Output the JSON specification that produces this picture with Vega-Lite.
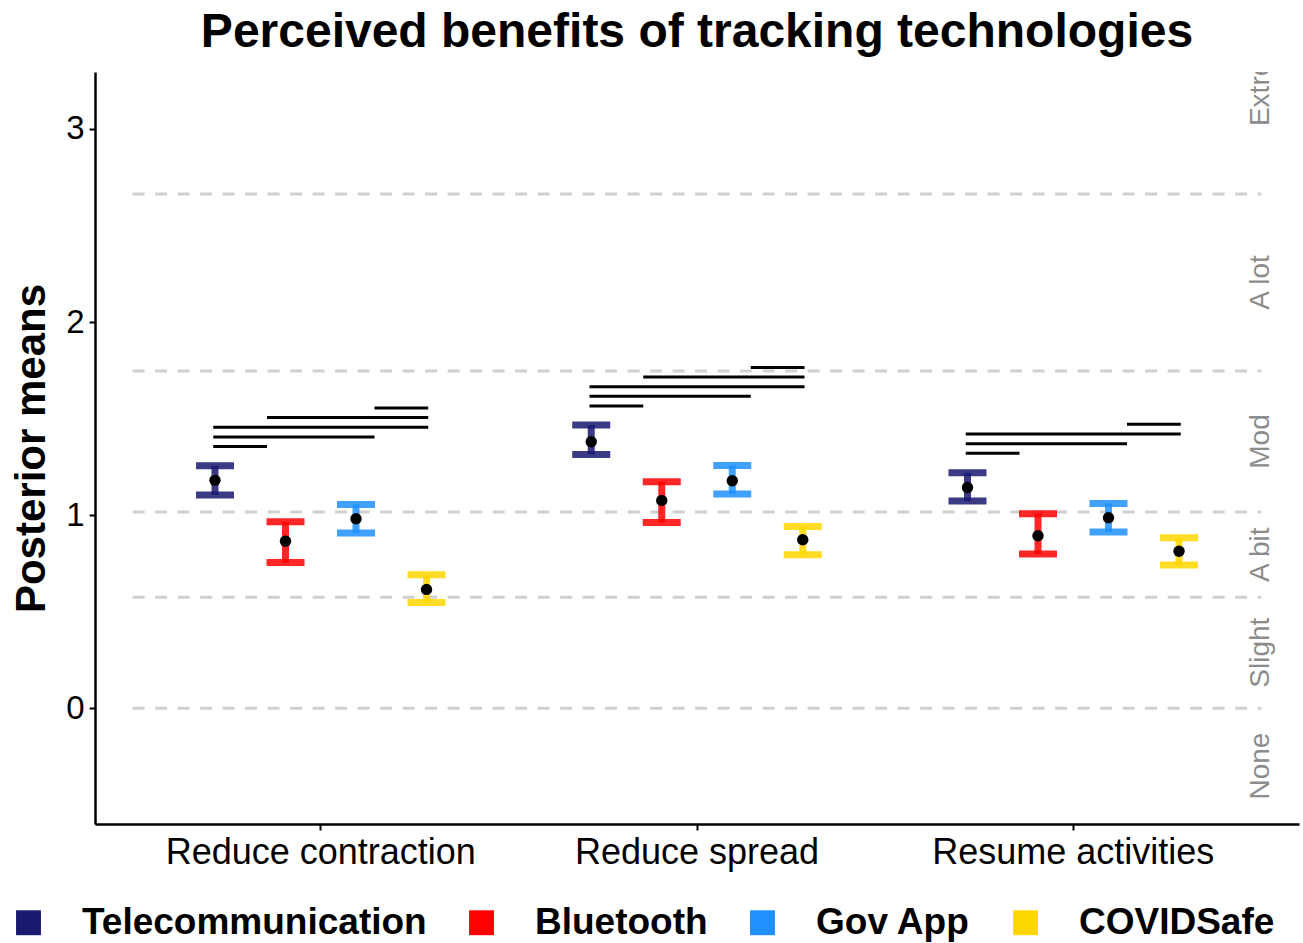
{
  "$schema": "https://vega.github.io/schema/vega-lite/v6.json",
  "width": 1204,
  "height": 752,
  "autosize": {"type": "none"},
  "padding": {"left": 95, "top": 72, "right": 4, "bottom": 119},
  "background": "white",
  "title": {
    "text": "Perceived benefits of tracking technologies",
    "fontSize": 48,
    "fontWeight": "bold",
    "color": "black",
    "anchor": "middle",
    "frame": "group",
    "offset": 15
  },
  "datasets": {
    "est": [
      {"cat": "Reduce contraction", "tech": "Telecommunication", "mean": 1.180, "lo": 1.104, "hi": 1.256},
      {"cat": "Reduce contraction", "tech": "Bluetooth", "mean": 0.865, "lo": 0.754, "hi": 0.965},
      {"cat": "Reduce contraction", "tech": "Gov App", "mean": 0.981, "lo": 0.907, "hi": 1.055},
      {"cat": "Reduce contraction", "tech": "COVIDSafe", "mean": 0.615, "lo": 0.547, "hi": 0.691},
      {"cat": "Reduce spread", "tech": "Telecommunication", "mean": 1.380, "lo": 1.314, "hi": 1.466},
      {"cat": "Reduce spread", "tech": "Bluetooth", "mean": 1.076, "lo": 0.962, "hi": 1.173},
      {"cat": "Reduce spread", "tech": "Gov App", "mean": 1.178, "lo": 1.109, "hi": 1.257},
      {"cat": "Reduce spread", "tech": "COVIDSafe", "mean": 0.872, "lo": 0.795, "hi": 0.941},
      {"cat": "Resume activities", "tech": "Telecommunication", "mean": 1.143, "lo": 1.073, "hi": 1.219},
      {"cat": "Resume activities", "tech": "Bluetooth", "mean": 0.893, "lo": 0.798, "hi": 1.007},
      {"cat": "Resume activities", "tech": "Gov App", "mean": 0.986, "lo": 0.912, "hi": 1.060},
      {"cat": "Resume activities", "tech": "COVIDSafe", "mean": 0.813, "lo": 0.741, "hi": 0.882}
    ],
    "sig": [
      {"cat": "Reduce contraction", "pair": "c-TB", "end": "Telecommunication", "y": 1.355},
      {"cat": "Reduce contraction", "pair": "c-TB", "end": "Bluetooth", "y": 1.355},
      {"cat": "Reduce contraction", "pair": "c-TG", "end": "Telecommunication", "y": 1.405},
      {"cat": "Reduce contraction", "pair": "c-TG", "end": "Gov App", "y": 1.405},
      {"cat": "Reduce contraction", "pair": "c-TC", "end": "Telecommunication", "y": 1.455},
      {"cat": "Reduce contraction", "pair": "c-TC", "end": "COVIDSafe", "y": 1.455},
      {"cat": "Reduce contraction", "pair": "c-BC", "end": "Bluetooth", "y": 1.505},
      {"cat": "Reduce contraction", "pair": "c-BC", "end": "COVIDSafe", "y": 1.505},
      {"cat": "Reduce contraction", "pair": "c-GC", "end": "Gov App", "y": 1.555},
      {"cat": "Reduce contraction", "pair": "c-GC", "end": "COVIDSafe", "y": 1.555},
      {"cat": "Reduce spread", "pair": "s-TB", "end": "Telecommunication", "y": 1.565},
      {"cat": "Reduce spread", "pair": "s-TB", "end": "Bluetooth", "y": 1.565},
      {"cat": "Reduce spread", "pair": "s-TG", "end": "Telecommunication", "y": 1.615},
      {"cat": "Reduce spread", "pair": "s-TG", "end": "Gov App", "y": 1.615},
      {"cat": "Reduce spread", "pair": "s-TC", "end": "Telecommunication", "y": 1.665},
      {"cat": "Reduce spread", "pair": "s-TC", "end": "COVIDSafe", "y": 1.665},
      {"cat": "Reduce spread", "pair": "s-BC", "end": "Bluetooth", "y": 1.715},
      {"cat": "Reduce spread", "pair": "s-BC", "end": "COVIDSafe", "y": 1.715},
      {"cat": "Reduce spread", "pair": "s-GC", "end": "Gov App", "y": 1.765},
      {"cat": "Reduce spread", "pair": "s-GC", "end": "COVIDSafe", "y": 1.765},
      {"cat": "Resume activities", "pair": "r-TB", "end": "Telecommunication", "y": 1.32},
      {"cat": "Resume activities", "pair": "r-TB", "end": "Bluetooth", "y": 1.32},
      {"cat": "Resume activities", "pair": "r-TG", "end": "Telecommunication", "y": 1.37},
      {"cat": "Resume activities", "pair": "r-TG", "end": "Gov App", "y": 1.37},
      {"cat": "Resume activities", "pair": "r-TC", "end": "Telecommunication", "y": 1.42},
      {"cat": "Resume activities", "pair": "r-TC", "end": "COVIDSafe", "y": 1.42},
      {"cat": "Resume activities", "pair": "r-GC", "end": "Gov App", "y": 1.47},
      {"cat": "Resume activities", "pair": "r-GC", "end": "COVIDSafe", "y": 1.47}
    ],
    "cut": [
      {"threshold": 0},
      {"threshold": 0.575},
      {"threshold": 1.016},
      {"threshold": 1.746},
      {"threshold": 2.663}
    ],
    "lab": [
      {"label": "None", "ypos": -0.3},
      {"label": "Slight", "ypos": 0.2875},
      {"label": "A bit", "ypos": 0.795},
      {"label": "Mod", "ypos": 1.381},
      {"label": "A lot", "ypos": 2.205},
      {"label": "Extreme", "ypos": 3.285}
    ]
  },
  "layer": [
    {
      "data": {"name": "cut"},
      "mark": {"type": "rule", "color": "#d0d0d0", "strokeWidth": 3, "strokeDash": [12, 10.5]},
      "encoding": {
        "x": {"datum": "Reduce contraction", "type": "nominal", "bandPosition": 0, "axis": {"title": null, "labelAngle": 0, "labelAlign": "center", "labelBaseline": "top", "bandPosition": 0.5, "labelFontSize": 36}},
        "x2": {"datum": "Resume activities", "bandPosition": 1},
        "y": {"field": "threshold", "type": "quantitative", "axis": {"title": "Posterior means", "values": [0, 1, 2, 3], "format": "d", "labelFontSize": 33, "titleFontSize": 42}}
      }
    },
    {
      "data": {"name": "est"},
      "mark": {"type": "rule", "strokeWidth": 7, "strokeOpacity": 0.85},
      "encoding": {
        "x": {
          "field": "cat", "type": "nominal",
          "scale": {"type": "band", "paddingInner": 0, "paddingOuter": 0.1, "domain": ["Reduce contraction", "Reduce spread", "Resume activities"]},
          "axis": {"title": null, "labelAngle": 0, "labelAlign": "center", "labelBaseline": "top", "bandPosition": 0.5, "labelFontSize": 36}
        },
        "xOffset": {
          "field": "tech", "type": "nominal",
          "scale": {"type": "band", "paddingInner": 0, "paddingOuter": 0.668, "domain": ["Telecommunication", "Bluetooth", "Gov App", "COVIDSafe"]}
        },
        "y": {
          "field": "lo", "type": "quantitative",
          "scale": {"domain": [-0.6, 3.295], "nice": false, "zero": false},
          "axis": {"title": "Posterior means", "values": [0, 1, 2, 3], "format": "d", "labelFontSize": 33, "titleFontSize": 42}
        },
        "y2": {"field": "hi"},
        "color": {
          "field": "tech", "type": "nominal",
          "scale": {"domain": ["Telecommunication", "Bluetooth", "Gov App", "COVIDSafe"], "range": ["#191970", "#FF0000", "#1E90FF", "#FFD700"]},
          "legend": {
            "title": null, "orient": "none", "legendX": -85, "legendY": 832, "direction": "horizontal",
            "symbolType": "square", "symbolSize": 620, "symbolStrokeWidth": 0, "symbolOpacity": 1,
            "labelFontSize": 37, "labelFontWeight": "bold", "labelColor": "black", "labelLimit": 600,
            "labelOffset": 35, "columnPadding": 36, "padding": 0,
            "encode": {"symbols": {"update": {"opacity": {"value": 1}, "fillOpacity": {"value": 1}, "strokeOpacity": {"value": 1}}}}
          }
        }
      }
    },
    {
      "data": {"name": "est"},
      "mark": {"type": "tick", "thickness": 7, "size": 38, "opacity": 0.85},
      "encoding": {
        "x": {"field": "cat", "type": "nominal", "axis": {"title": null, "labelAngle": 0, "labelAlign": "center", "labelBaseline": "top", "bandPosition": 0.5, "labelFontSize": 36}},
        "xOffset": {
          "field": "tech", "type": "nominal",
          "scale": {"type": "band", "paddingInner": 0, "paddingOuter": 0.668, "domain": ["Telecommunication", "Bluetooth", "Gov App", "COVIDSafe"]}
        },
        "y": {"field": "lo", "type": "quantitative", "axis": {"title": "Posterior means", "values": [0, 1, 2, 3], "format": "d", "labelFontSize": 33, "titleFontSize": 42}},
        "color": {"field": "tech", "type": "nominal"}
      }
    },
    {
      "data": {"name": "est"},
      "mark": {"type": "tick", "thickness": 7, "size": 38, "opacity": 0.85},
      "encoding": {
        "x": {"field": "cat", "type": "nominal", "axis": {"title": null, "labelAngle": 0, "labelAlign": "center", "labelBaseline": "top", "bandPosition": 0.5, "labelFontSize": 36}},
        "xOffset": {
          "field": "tech", "type": "nominal",
          "scale": {"type": "band", "paddingInner": 0, "paddingOuter": 0.668, "domain": ["Telecommunication", "Bluetooth", "Gov App", "COVIDSafe"]}
        },
        "y": {"field": "hi", "type": "quantitative", "axis": {"title": "Posterior means", "values": [0, 1, 2, 3], "format": "d", "labelFontSize": 33, "titleFontSize": 42}},
        "color": {"field": "tech", "type": "nominal"}
      }
    },
    {
      "data": {"name": "est"},
      "mark": {"type": "point", "filled": true, "color": "black", "size": 130, "opacity": 1},
      "encoding": {
        "x": {"field": "cat", "type": "nominal", "axis": {"title": null, "labelAngle": 0, "labelAlign": "center", "labelBaseline": "top", "bandPosition": 0.5, "labelFontSize": 36}},
        "xOffset": {
          "field": "tech", "type": "nominal",
          "scale": {"type": "band", "paddingInner": 0, "paddingOuter": 0.668, "domain": ["Telecommunication", "Bluetooth", "Gov App", "COVIDSafe"]}
        },
        "y": {"field": "mean", "type": "quantitative", "axis": {"title": "Posterior means", "values": [0, 1, 2, 3], "format": "d", "labelFontSize": 33, "titleFontSize": 42}}
      }
    },
    {
      "data": {"name": "sig"},
      "mark": {"type": "line", "color": "black", "strokeWidth": 3, "strokeCap": "butt"},
      "encoding": {
        "x": {"field": "cat", "type": "nominal", "axis": {"title": null, "labelAngle": 0, "labelAlign": "center", "labelBaseline": "top", "bandPosition": 0.5, "labelFontSize": 36}},
        "xOffset": {
          "field": "end", "type": "nominal",
          "scale": {"type": "band", "paddingInner": 0, "paddingOuter": 1.07, "domain": ["Telecommunication", "Bluetooth", "middle", "Gov App", "COVIDSafe"]}
        },
        "y": {"field": "y", "type": "quantitative", "axis": {"title": "Posterior means", "values": [0, 1, 2, 3], "format": "d", "labelFontSize": 33, "titleFontSize": 42}},
        "detail": {"field": "pair", "type": "nominal"}
      }
    },
    {
      "data": {"name": "lab"},
      "mark": {"type": "text", "angle": 270, "fontSize": 28, "color": "#8c8c8c", "align": "center", "baseline": "middle", "clip": true},
      "encoding": {
        "x": {"datum": "Resume activities", "type": "nominal", "bandPosition": 1, "axis": {"title": null, "labelAngle": 0, "labelAlign": "center", "labelBaseline": "top", "bandPosition": 0.5, "labelFontSize": 36}},
        "y": {"field": "ypos", "type": "quantitative", "axis": {"title": "Posterior means", "values": [0, 1, 2, 3], "format": "d", "labelFontSize": 33, "titleFontSize": 42}},
        "text": {"field": "label", "type": "nominal"}
      }
    }
  ],
  "resolve": {"scale": {"xOffset": "independent"}},
  "config": {
    "font": "Liberation Sans",
    "view": {"stroke": null},
    "axis": {"grid": false},
    "axisX": {
      "labelFontSize": 36, "labelColor": "black", "labelAngle": 0, "labelAlign": "center", "labelBaseline": "top",
      "domainColor": "black", "domainWidth": 2.5, "tickColor": "black", "tickWidth": 2, "tickSize": 6,
      "labelPadding": 5, "labelLimit": 600, "grid": false
    },
    "axisY": {
      "labelFontSize": 33, "labelColor": "black",
      "domainColor": "black", "domainWidth": 2.5, "tickColor": "black", "tickWidth": 2, "tickSize": 6,
      "labelPadding": 5, "grid": false,
      "titleFontSize": 42, "titleFontWeight": "bold", "titleColor": "black", "titlePadding": 12
    }
  }
}
